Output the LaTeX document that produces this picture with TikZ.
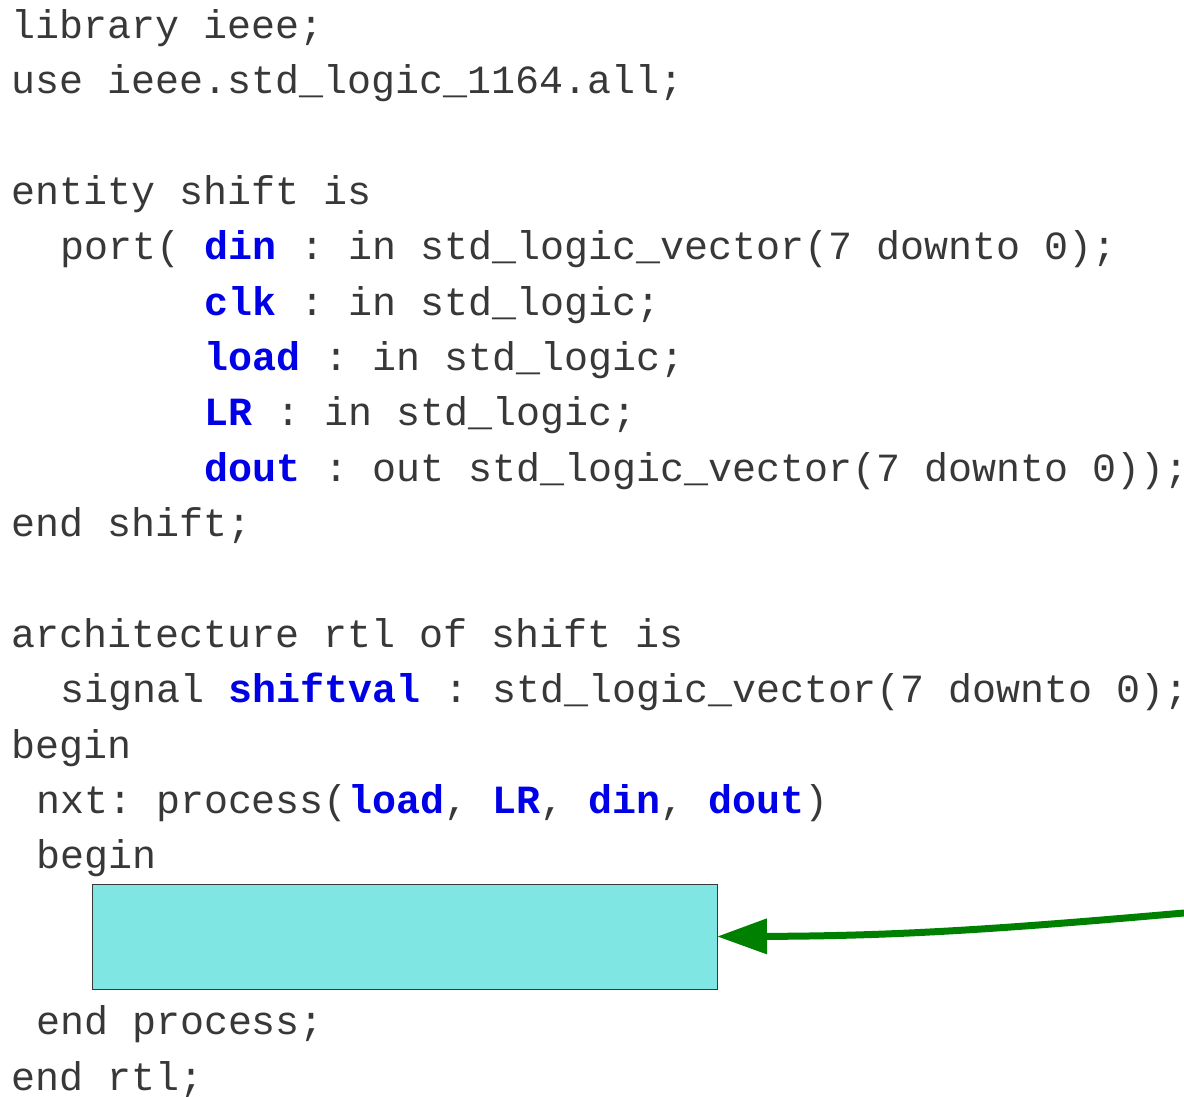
\documentclass[tikz,border=0pt]{standalone}
\usepackage{fontspec}
\usetikzlibrary{arrows.meta}
\newfontfamily\codefont{Liberation Mono}
\definecolor{codegray}{HTML}{383838}
\definecolor{kwblue}{HTML}{0000E8}
\definecolor{boxfill}{HTML}{80E6E4}
\definecolor{flowgreen}{HTML}{008000}
\newcommand{\sig}[1]{\textcolor{kwblue}{\bfseries #1}}
\begin{document}
\begin{tikzpicture}[x=1pt,y=-1pt,
  code/.style={anchor=base west,inner sep=0pt,outer sep=0pt,text=codegray,
    font=\codefont\fontsize{40}{40}\selectfont\frenchspacing},
  procbox/.style={draw=codegray,line width=1pt,fill=boxfill,inner sep=0pt,outer sep=0pt,
    minimum width=625pt,minimum height=105pt,anchor=north west},
  flow/.style={draw=flowgreen,line width=7pt,-{Triangle[length=50pt,width=34pt]}}]
\useasboundingbox (0,0) rectangle (1184,1097);
% baseline of code line i: 38.5 + 55.35*i ; character cell 24pt wide
\def\lx{12}
\node[code] (l0)  at (\lx,38.5)        {library ieee;};
\node[code] (l1)  at (\lx,93.85)       {use ieee.std\_logic\_1164.all;};
\node[code] (l3)  at (\lx,204.55)      {entity shift is};
\node[code] (l4)  at (\lx+48,259.9)    {port( \sig{din} : in std\_logic\_vector(7 downto 0);};
\node[code] (l5)  at (\lx+192,315.25)  {\sig{clk} : in std\_logic;};
\node[code] (l6)  at (\lx+192,370.6)   {\sig{load} : in std\_logic;};
\node[code] (l7)  at (\lx+192,425.95)  {\sig{LR} : in std\_logic;};
\node[code] (l8)  at (\lx+192,481.3)   {\sig{dout} : out std\_logic\_vector(7 downto 0));};
\node[code] (l9)  at (\lx,536.65)      {end shift;};
\node[code] (l11) at (\lx,647.35)      {architecture rtl of shift is};
\node[code] (l12) at (\lx+48,702.7)    {signal \sig{shiftval} : std\_logic\_vector(7 downto 0);};
\node[code] (l13) at (\lx,758.05)      {begin};
\node[code] (l14) at (\lx+24,813.4)    {nxt: process(\sig{load}, \sig{LR}, \sig{din}, \sig{dout})};
\node[code] (l15) at (\lx+24,868.75)   {begin};
\node[code] (l18) at (\lx+24,1034.8)   {end process;};
\node[code] (l19) at (\lx,1090.15)     {end rtl;};
% process body placeholder
\node[procbox] (body) at (92,884) {};
% incoming connector from the right margin
\coordinate (src) at (1184,913);
\draw[flow] (src) .. controls (1000,929) and (900,936) .. (body.east);
\end{tikzpicture}
\end{document}
